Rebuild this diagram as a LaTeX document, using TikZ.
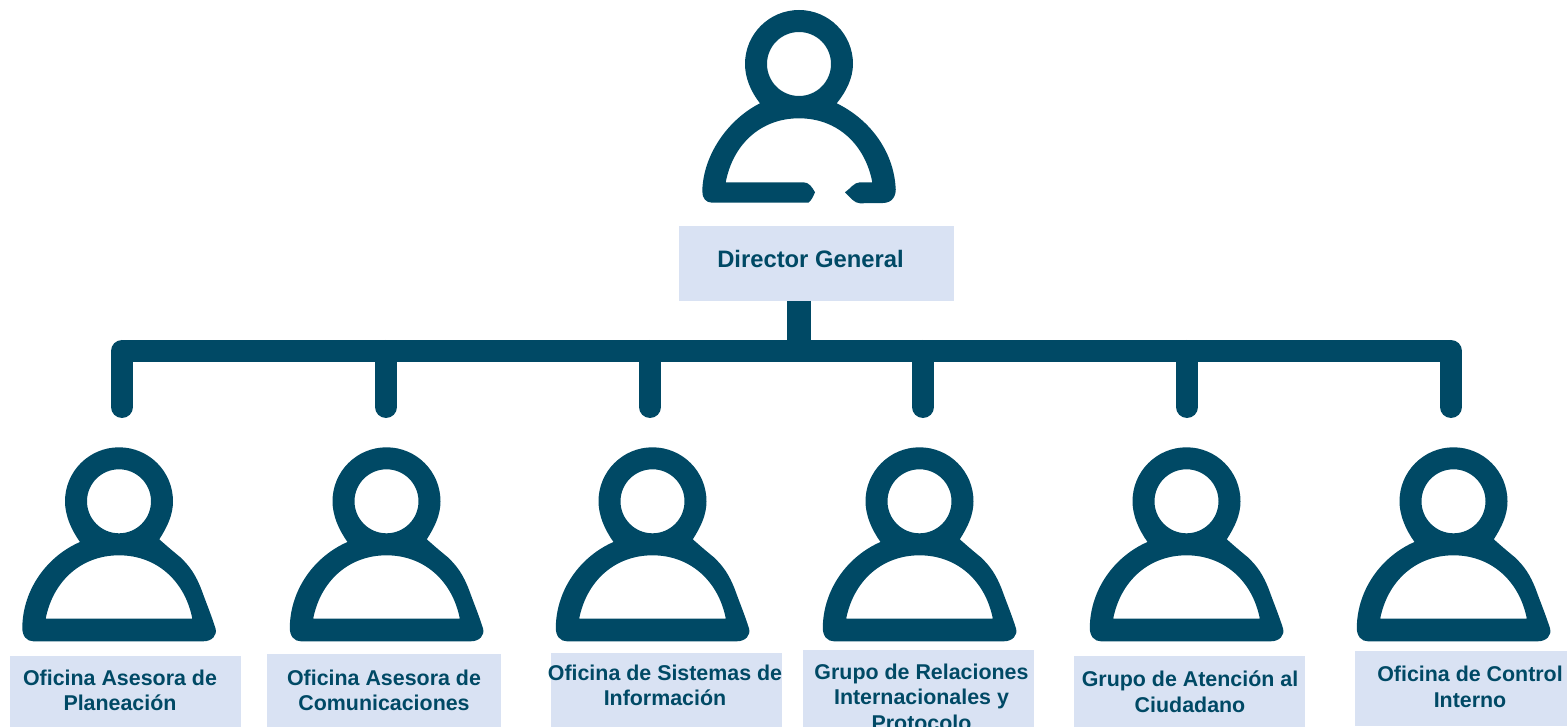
\documentclass[tikz,border=0pt]{standalone}
\usepackage{fontspec}
\setmainfont{Liberation Sans}
\definecolor{ink}{HTML}{004965}
\definecolor{pale}{HTML}{D9E2F3}
\tikzset{
  lblbox/.style={fill=pale,draw=none,inner sep=0pt,outer sep=0pt},
  lbltext/.style={text=ink,font=\fontsize{21.4}{25.5}\selectfont\bfseries,align=center,inner sep=0pt},
  bus/.style={draw=ink,line width=22pt,line join=round},
  drop/.style={draw=ink,line width=22pt,line cap=round},
  person/.pic={
    \fill[ink,even odd rule]
      (-39,40.7) .. controls (-48,28) and (-54,14) .. (-54,0)
      arc[start angle=180,end angle=360,radius=54]
      .. controls (54,14) and (48,26) .. (40.3,38)
      .. controls (47,44) and (54,50) .. (61,55.7)
      .. controls (71,65) and (77,74) .. (82.7,89)
      .. controls (87,101) and (92,113) .. (96.5,127)
      .. controls (98.5,134) and (93,140) .. (84.3,140)
      -- (-85.7,140)
      .. controls (-92,140) and (-97,135) .. (-96.7,125.7)
      .. controls (-96,88) and (-72,55) .. (-39,40.7) -- cycle
      (-73.3,117.3) .. controls (-66,80) and (-38,54) .. (0,54)
      .. controls (38,54) and (66,80) .. (73.3,117.3) -- cycle
      (32,0) arc[start angle=0,end angle=360,radius=32];
  },
  topperson/.pic={
    \fill[ink,even odd rule]
      (-39,39.3) .. controls (-48,28) and (-54,14) .. (-54,0)
      arc[start angle=180,end angle=360,radius=54]
      .. controls (54,14) and (47,28) .. (37.7,39.3)
      .. controls (72,56) and (94,88) .. (96.5,122)
      .. controls (98,132) and (93,139) .. (84,139)
      -- (61,139.3)
      .. controls (55,139) and (52,134) .. (46,128.3)
      .. controls (51,125) and (55,118.3) .. (61,118.3)
      -- (73.3,118.3)
      .. controls (66,80) and (38,54.3) .. (0,54.3)
      .. controls (-38,54.3) and (-66,80) .. (-73.3,118.3)
      -- (4.3,118.3)
      .. controls (10,118.3) and (13,123) .. (16,128.3)
      .. controls (14,133) and (12,137) .. (9.3,138.7)
      -- (-87,138.7)
      .. controls (-93,138.7) and (-97,134) .. (-96.7,127)
      .. controls (-96,92) and (-72,56) .. (-39,39.3) -- cycle
      (32,0) arc[start angle=0,end angle=360,radius=32];
  }
}
\begin{document}
\begin{tikzpicture}[x=1pt,y=-1pt]
\useasboundingbox (0,0) rectangle (1567,727);
\clip (0,0) rectangle (1567,727);
% people
\pic at (799,64) {topperson};
\foreach \cx in {119,386.5,652.5,919.5,1186.5,1453.5} \pic at (\cx,501.3) {person};
% label boxes
\node[lblbox,minimum width=275pt,minimum height=75pt] (dirbox) at (816.5,263.5) {};
\node[lbltext,font=\fontsize{23.8}{28}\selectfont\bfseries] (dirtxt) at (810.5,259) {Director General};
\node[lblbox,minimum width=231pt,minimum height=71pt] (b1) at (125.5,691.5) {};
\node[lbltext] (t1) at (120,690.5) {Oficina Asesora de\\Planeación};
\node[lblbox,minimum width=234pt,minimum height=73pt] (b2) at (384,690.5) {};
\node[lbltext] (t2) at (384,690.5) {Oficina Asesora de\\Comunicaciones};
\node[lblbox,minimum width=231pt,minimum height=74pt] (b3) at (666.5,690) {};
\node[lbltext] (t3) at (665,685.5) {Oficina de Sistemas de\\Información};
\node[lblbox,minimum width=231pt,minimum height=94pt] (b4) at (918.5,697) {};
\node[lbltext] (t4) at (921.5,697) {Grupo de Relaciones\\Internacionales y\\Protocolo};
\node[lblbox,minimum width=231pt,minimum height=71pt] (b5) at (1189.5,691.5) {};
\node[lbltext] (t5) at (1190,692) {Grupo de Atención al\\Ciudadano};
\node[lblbox,minimum width=212pt,minimum height=75pt] (b6) at (1461,688.5) {};
\node[lbltext] (t6) at (1470,687) {Oficina de Control\\Interno};
% connectors
\coordinate (busL) at (122,351);
\coordinate (busR) at (1451,351);
\coordinate (busM) at (799,351);
\coordinate (d1) at (122,407);
\coordinate (d6) at (1451,407);
\coordinate (j2) at (386,351);  \coordinate (d2) at (386,407);
\coordinate (j3) at (650,351);  \coordinate (d3) at (650,407);
\coordinate (j4) at (923,351);  \coordinate (d4) at (923,407);
\coordinate (j5) at (1187,351); \coordinate (d5) at (1187,407);
\draw[draw=ink,line width=24pt] (busM |- dirbox.south) -- (busM);
\foreach \a/\b in {j2/d2,j3/d3,j4/d4,j5/d5} \draw[drop] (\b) -- (\a);
\draw[drop] (d1) -- (busL);
\draw[drop] (d6) -- (busR);
\draw[bus] (busL) -- (busR);
\end{tikzpicture}
\end{document}
